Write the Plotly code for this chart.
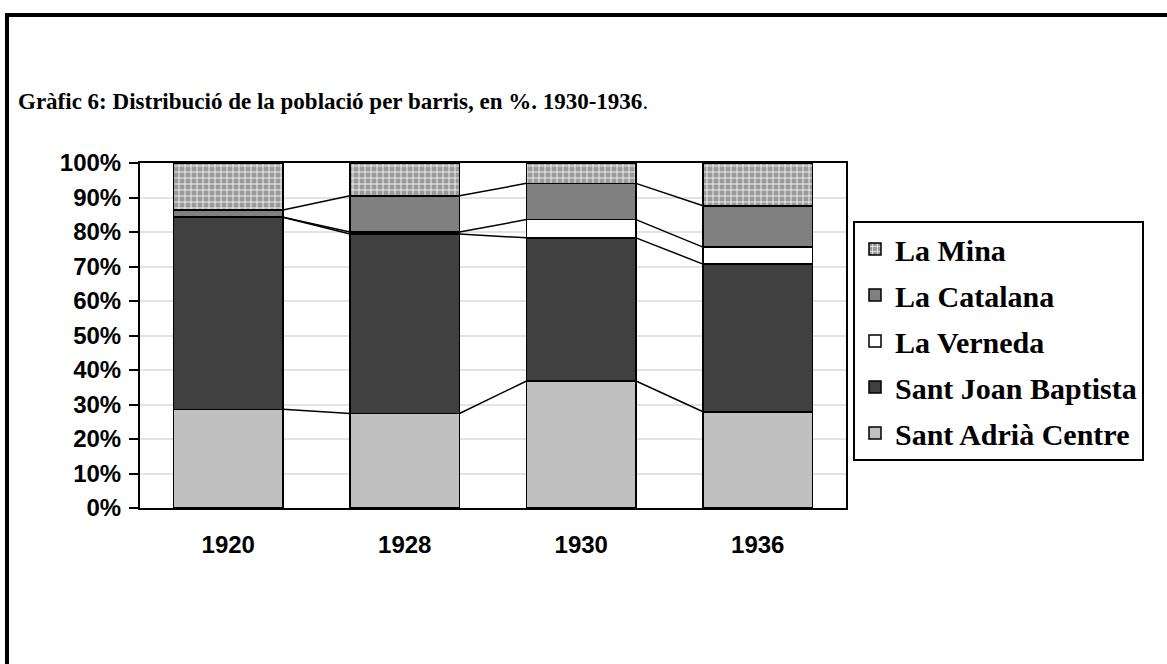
import plotly.graph_objects as go

years = ["1920", "1928", "1930", "1936"]
barris = ["Sant Adrià Centre", "Sant Joan Baptista", "La Verneda", "La Catalana", "La Mina"]
sant_adria = [28.6, 27.4, 36.8, 27.9]
sant_joan = [55.7, 52.0, 41.5, 42.8]
verneda = [0.0, 0.6, 5.3, 4.9]
catalana = [2.1, 10.5, 10.5, 12.0]
mina = [13.6, 9.5, 5.9, 12.4]
yticks = [0, 10, 20, 30, 40, 50, 60, 70, 80, 90, 100]

series = [sant_adria, sant_joan, verneda, catalana, mina]
colors = ["#c0c0c0", "#404040", "#ffffff", "#808080", "#9a9a9a"]
BW = 0.62
xs = list(range(len(years)))

fig = go.Figure()
for i, (name, vals) in enumerate(zip(barris, series)):
    marker = dict(color=colors[i], line=dict(color="black", width=1.5))
    if name == "La Mina":
        marker["pattern"] = dict(shape="+", fgcolor="#ffffff", bgcolor="#9a9a9a",
                                 size=6, solidity=0.25, fillmode="replace")
    fig.add_trace(go.Bar(x=xs, y=vals, name=name, width=BW, marker=marker,
                         legendgroup=name, legendrank=len(barris) - i))

# series lines between bars
cum = [0.0] * len(years)
for vals in series[:-1]:
    cum = [c + v for c, v in zip(cum, vals)]
    lx, ly = [], []
    for i in range(len(years) - 1):
        lx += [xs[i] + BW / 2, xs[i + 1] - BW / 2, None]
        ly += [cum[i], cum[i + 1], None]
    fig.add_trace(go.Scatter(x=lx, y=ly, mode="lines", showlegend=False,
                             line=dict(color="black", width=1.5), hoverinfo="skip"))

W, H = 1167, 664
L, R, T, B = 140, 846, 163, 508
pw, ph = R - L, B - T

fig.update_layout(
    width=W, height=H,
    margin=dict(l=L, r=W - R, t=T, b=H - B),
    paper_bgcolor="white", plot_bgcolor="white",
    barmode="stack",
    title=dict(text="<b>Gràfic 6: Distribució de la població per barris, en %. 1930-1936</b>.",
               xref="container", yref="container", x=18 / W, xanchor="left",
               y=1 - 101 / H, yanchor="middle",
               font=dict(family="Liberation Serif", size=23, color="black")),
    legend=dict(x=(853 - L) / pw, y=(B - 221) / ph, xanchor="left", yanchor="top",
                traceorder="grouped", tracegroupgap=4,
                bordercolor="black", borderwidth=2,
                font=dict(family="Liberation Serif", size=30, color="black", weight="bold")),
    xaxis=dict(range=[-0.5, len(years) - 0.5], tickvals=xs, ticktext=years,
               showgrid=False, showline=True, linecolor="black", linewidth=2,
               mirror=True, ticks="", zeroline=False, ticklabelstandoff=14,
               tickfont=dict(family="Liberation Sans", size=24, color="black", weight="bold")),
    yaxis=dict(range=[0, 100], tickvals=yticks, ticktext=[f"{t}%" for t in yticks],
               showgrid=True, gridcolor="#e3e3e3", gridwidth=2,
               showline=True, linecolor="black", linewidth=2, mirror=True,
               ticks="outside", ticklen=9, tickcolor="black", tickwidth=2,
               zeroline=False, ticklabelstandoff=3,
               tickfont=dict(family="Liberation Sans", size=24, color="black", weight="bold")),
    shapes=[dict(type="rect", xref="paper", yref="paper",
                 x0=(7 - L) / pw, x1=(W + 20 - L) / pw,
                 y0=(B - (H + 20)) / ph, y1=(B - 15) / ph,
                 line=dict(color="black", width=4), fillcolor="rgba(0,0,0,0)",
                 layer="above")],
)

fig.write_html("out.html", config={"displayModeBar": False},
               post_script="document.body.style.margin='0px';")
